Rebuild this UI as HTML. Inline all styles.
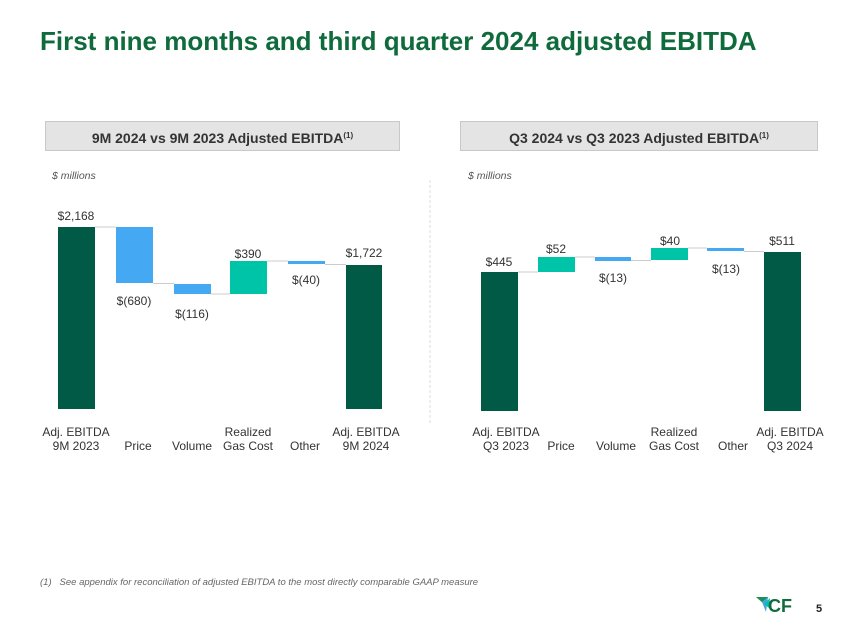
<!DOCTYPE html>
<html><head><style>
body{margin:0;width:850px;height:638px;background:#fff;font-family:"Liberation Sans",sans-serif;position:relative;overflow:hidden}
.t{position:absolute;white-space:nowrap}
.hdr{position:absolute;top:121px;height:30px;background:#e4e4e4;border:1px solid #c8c8c8;box-sizing:border-box;font-size:14px;font-weight:bold;color:#333;text-align:center;line-height:28px}
.hdr sup{font-size:8px;vertical-align:5px}
svg text{font-family:"Liberation Sans",sans-serif;font-size:12px;fill:#333;text-anchor:middle}
</style></head><body>
<div class="t" style="left:40px;top:26px;font-size:26px;font-weight:bold;color:#0f6b3c">First nine months and third quarter 2024 adjusted EBITDA</div>
<div class="hdr" style="left:45px;width:355px">9M 2024 vs 9M 2023 Adjusted EBITDA<sup>(1)</sup></div>
<div class="hdr" style="left:460px;width:358px">Q3 2024 vs Q3 2023 Adjusted EBITDA<sup>(1)</sup></div>
<div class="t" style="left:52px;top:170px;font-size:10.5px;font-style:italic;color:#555">$ millions</div>
<div class="t" style="left:468px;top:170px;font-size:10.5px;font-style:italic;color:#555">$ millions</div>
<svg width="850" height="638" style="position:absolute;left:0;top:0">
<line x1="430" y1="180" x2="430" y2="425" stroke="#ddd" stroke-width="1" stroke-dasharray="3,2"/>
<g stroke="#ccc" stroke-width="1">
<line x1="95" y1="227" x2="116" y2="227"/><line x1="153" y1="283.5" x2="174" y2="283.5"/><line x1="211" y1="294" x2="230" y2="294"/><line x1="267" y1="261" x2="288" y2="261"/><line x1="325" y1="264.5" x2="346" y2="264.5"/>
<line x1="518" y1="272" x2="538" y2="272"/><line x1="575" y1="257" x2="595" y2="257"/><line x1="631" y1="260.5" x2="651" y2="260.5"/><line x1="688" y1="248" x2="707" y2="248"/><line x1="744" y1="251.5" x2="764" y2="251.5"/>
</g>
<rect x="58" y="227" width="37" height="182" fill="#005a45"/>
<rect x="116" y="227" width="37" height="56" fill="#44a8f2"/>
<rect x="174" y="284" width="37" height="10" fill="#44a8f2"/>
<rect x="230" y="261" width="37" height="33" fill="#00c4a8"/>
<rect x="288" y="261" width="37" height="3" fill="#44a8f2"/>
<rect x="346" y="265" width="36" height="144" fill="#005a45"/>
<rect x="481" y="272" width="37" height="139" fill="#005a45"/>
<rect x="538" y="257" width="37" height="15" fill="#00c4a8"/>
<rect x="595" y="257" width="36" height="4" fill="#44a8f2"/>
<rect x="651" y="248" width="37" height="12" fill="#00c4a8"/>
<rect x="707" y="248" width="37" height="3" fill="#44a8f2"/>
<rect x="764" y="252" width="37" height="159" fill="#005a45"/>
<text x="76" y="220">$2,168</text><text x="134" y="305">$(680)</text><text x="192" y="318">$(116)</text><text x="248" y="258">$390</text><text x="306" y="284">$(40)</text><text x="364" y="257">$1,722</text>
<text x="499" y="266">$445</text><text x="556" y="253">$52</text><text x="613" y="282">$(13)</text><text x="670" y="245">$40</text><text x="726" y="273">$(13)</text><text x="782" y="245">$511</text>
<text x="76" y="436">Adj. EBITDA</text><text x="76" y="450">9M 2023</text><text x="138" y="450">Price</text><text x="192" y="450">Volume</text><text x="248" y="436">Realized</text><text x="248" y="450">Gas Cost</text><text x="305" y="450">Other</text><text x="366" y="436">Adj. EBITDA</text><text x="366" y="450">9M 2024</text>
<text x="506" y="436">Adj. EBITDA</text><text x="506" y="450">Q3 2023</text><text x="561" y="450">Price</text><text x="616" y="450">Volume</text><text x="674" y="436">Realized</text><text x="674" y="450">Gas Cost</text><text x="733" y="450">Other</text><text x="790" y="436">Adj. EBITDA</text><text x="790" y="450">Q3 2024</text>
<polygon points="756,597 768,597 764,604" fill="#1a8f5a"/><polygon points="762,602 768,597 766,612" fill="#4aa3df"/><polygon points="764,604 770,598 769,608" fill="#00c4a8"/>
<text x="780" y="612" style="font-size:18px;font-weight:bold;fill:#0f6b3c">CF</text>
<text x="819" y="612" style="font-size:11px;font-weight:bold;fill:#222">5</text>
</svg>
<div class="t" style="left:40px;top:577px;font-size:9.5px;font-style:italic;color:#666">(1)&nbsp;&nbsp;&nbsp;See appendix for reconciliation of adjusted EBITDA to the most directly comparable GAAP measure</div>
</body></html>
